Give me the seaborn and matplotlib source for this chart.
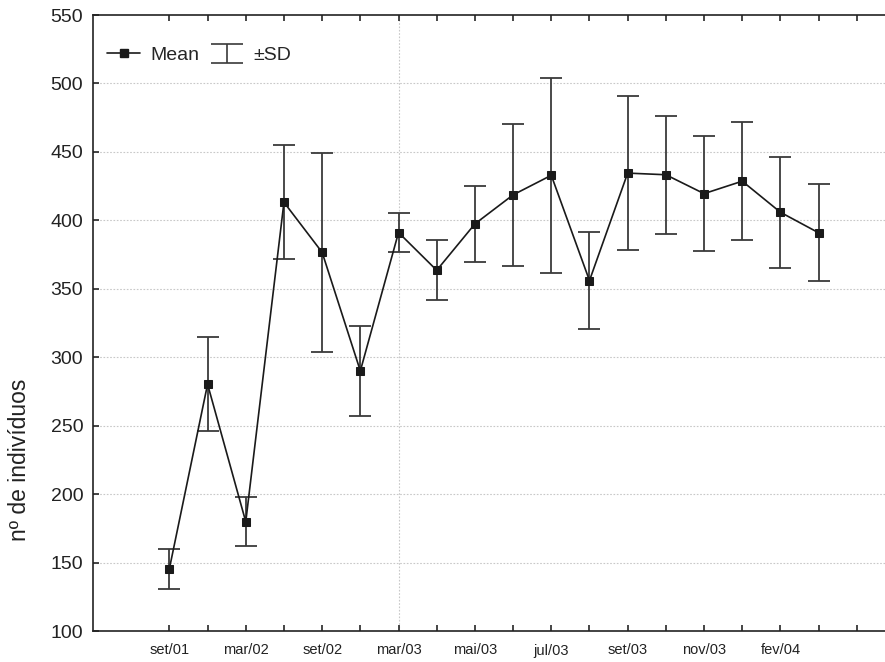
import numpy as np
import pandas as pd
import matplotlib
matplotlib.use("Agg")
import matplotlib.pyplot as plt
import seaborn as sns

# monthly samples: mean and standard deviation of number of individuals
sample_pos = list(range(1, 19))
mean_vals = [145.5, 280.3, 179.8, 413.2, 376.6, 290.0, 391.1, 363.5, 397.4,
             418.6, 432.9, 356.0, 434.5, 433.3, 419.5, 428.6, 405.9, 390.9]
sd_vals = [14.6, 34.2, 17.9, 41.5, 72.7, 32.8, 14.5, 22.0, 27.6,
           51.7, 71.2, 35.6, 56.0, 43.2, 42.1, 43.2, 40.7, 35.3]
tick_labels = ["set/01", "mar/02", "set/02", "mar/03", "mai/03",
               "jul/03", "set/03", "nov/03", "fev/04"]

sns.set_theme(style="ticks")
plt.rcParams["font.family"] = ["Liberation Sans", "DejaVu Sans"]

df = pd.DataFrame({"pos": sample_pos, "mean": mean_vals, "sd": sd_vals})

fig = plt.figure(figsize=(8.85, 6.62), dpi=100)
ax = fig.add_axes([93 / 885, 31 / 662, 802 / 885, 616 / 662])

# grid: horizontal dotted lines plus a single vertical one at mar/03
for y in range(150, 550, 50):
    ax.axhline(y, color="#c8c8c8", lw=0.8, ls=(0, (1.5, 1.5)), zorder=0)
ax.axvline(7, color="#c8c8c8", lw=0.8, ls=(0, (1.5, 1.5)), zorder=0)

ax.errorbar(df["pos"], df["mean"], yerr=df["sd"], fmt="none",
            ecolor="#3a3a3a", elinewidth=1.3, capsize=8, capthick=1.3, zorder=2)
sns.lineplot(data=df, x="pos", y="mean", ax=ax, color="#1a1a1a", lw=1.2,
             marker="s", markersize=5.5, markeredgecolor="#1a1a1a",
             markerfacecolor="#1a1a1a", zorder=3)

ax.set_xlim(-1, 20)
ax.set_ylim(100, 550)
ax.set_yticks(range(100, 551, 50))
ticks = list(range(1, 20))
labels = [""] * len(ticks)
for i, lab in enumerate(tick_labels):
    labels[2 * i] = lab
ax.set_xticks(ticks)
ax.set_xticklabels(labels, fontsize=10.5, color="#222222")
ax.tick_params(axis="x", direction="in", top=True, length=4, width=1.2, pad=9)
ax.tick_params(axis="y", direction="in", length=4, width=1.2, pad=7,
               labelsize=14, labelcolor="#222222")
ax.set_xlabel("")
ax.set_ylabel("nº de indivíduos", fontsize=16.5, color="#222222")
ax.yaxis.set_label_coords(-0.077, 0.278)

for side in ["left", "bottom", "top"]:
    ax.spines[side].set_color("#222222")
    ax.spines[side].set_linewidth(1.2)
ax.spines["right"].set_visible(False)

# legend handles
mean_handle = plt.Line2D([], [], color="#1a1a1a", lw=1.2, marker="s",
                         markersize=5.5)
sd_proxy = ax.errorbar([np.nan], [np.nan], yerr=[np.nan], fmt="none",
                       ecolor="#3a3a3a", elinewidth=1.2, capsize=11.5,
                       capthick=1.2)
ax.legend([mean_handle, sd_proxy], ["Mean", "±SD"], loc="upper left",
          bbox_to_anchor=(-0.004, 0.977), ncol=2, frameon=False, fontsize=14,
          handlelength=1.7, handletextpad=0.5, columnspacing=0.6)

fig.savefig("out.png", dpi=100)
